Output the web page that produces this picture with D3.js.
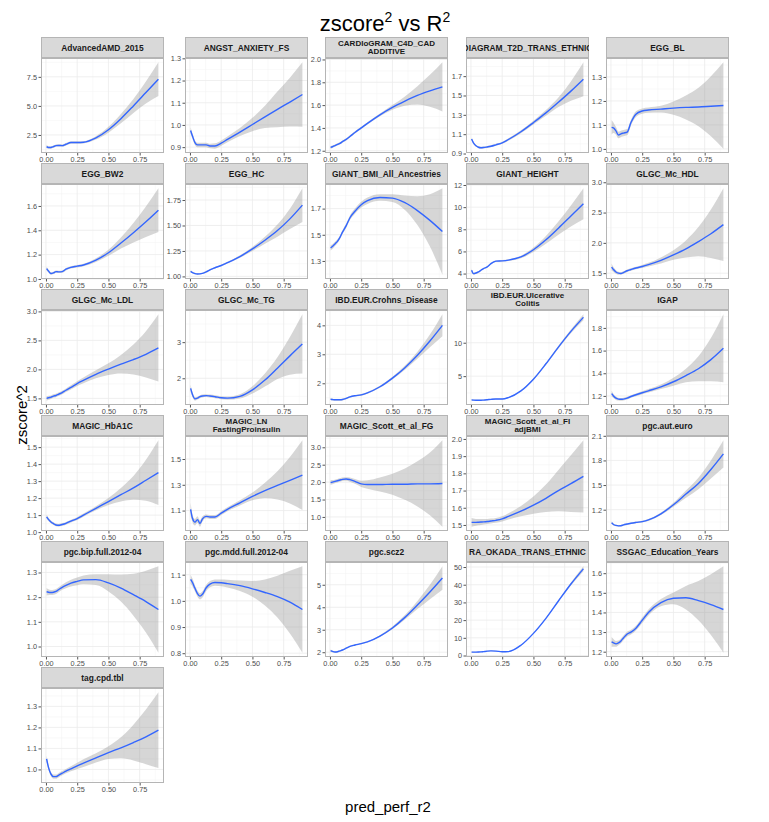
<!DOCTYPE html>
<html>
<head>
<meta charset="utf-8">
<script src="https://cdn.jsdelivr.net/npm/d3@7"></script>
<style>
  body { margin: 0; background: #fff; }
  svg { display: block; font-family: "Liberation Sans", Arial, sans-serif; }
</style>
</head>
<body>
<svg id="chart" width="769" height="822"></svg>
<script>
// Facet names, in facet_wrap order (\n = wrapped strip label)
const panelNames = [
  "AdvancedAMD_2015", "ANGST_ANXIETY_FS", "CARDIoGRAM_C4D_CAD\nADDITIVE", "DIAGRAM_T2D_TRANS_ETHNIC", "EGG_BL",
  "EGG_BW2", "EGG_HC", "GIANT_BMI_All_Ancestries", "GIANT_HEIGHT", "GLGC_Mc_HDL",
  "GLGC_Mc_LDL", "GLGC_Mc_TG", "IBD.EUR.Crohns_Disease", "IBD.EUR.Ulcerative\nColitis", "IGAP",
  "MAGIC_HbA1C", "MAGIC_LN\nFastingProinsulin", "MAGIC_Scott_et_al_FG", "MAGIC_Scott_et_al_FI\nadjBMI", "pgc.aut.euro",
  "pgc.bip.full.2012-04", "pgc.mdd.full.2012-04", "pgc.scz2", "RA_OKADA_TRANS_ETHNIC", "SSGAC_Education_Years",
  "tag.cpd.tbl"
];

const xGrid = [0.005, 0.02, 0.04, 0.06, 0.08, 0.1, 0.13, 0.16, 0.2, 0.25, 0.3, 0.4, 0.5, 0.6, 0.7, 0.8, 0.9];
const xTickLabels = ["0.00", "0.25", "0.50", "0.75"];

const yTickLabels = [
  ["2.5", "5.0", "7.5"], ["0.9", "1.0", "1.1", "1.2", "1.3"], ["1.2", "1.4", "1.6", "1.8", "2.0"], ["0.9", "1.1", "1.3", "1.5", "1.7"], ["1.0", "1.1", "1.2", "1.3"],
  ["1.0", "1.2", "1.4", "1.6"], ["1.00", "1.25", "1.50", "1.75"], ["1.3", "1.5", "1.7"], ["4", "6", "8", "10", "12"], ["1.5", "2.0", "2.5", "3.0"],
  ["1.5", "2.0", "2.5", "3.0"], ["2", "3"], ["2", "3", "4"], ["5", "10"], ["1.2", "1.4", "1.6", "1.8"],
  ["1.0", "1.1", "1.2", "1.3", "1.4", "1.5"], ["1.1", "1.3", "1.5"], ["1.0", "1.5", "2.0", "2.5", "3.0"], ["1.5", "1.6", "1.7", "1.8", "1.9", "2.0"], ["1.2", "1.5", "1.8", "2.1"],
  ["1.0", "1.1", "1.2", "1.3"], ["0.8", "0.9", "1.0", "1.1"], ["2", "3", "4", "5"], ["0", "10", "20", "30", "40", "50"], ["1.2", "1.3", "1.4", "1.5", "1.6"],
  ["1.0", "1.1", "1.2", "1.3"]
];

// loess fit of zscore^2 at each xGrid point
const fitValues = [
  [1.5, 1.42, 1.42, 1.5, 1.58, 1.6, 1.58, 1.7, 1.85, 1.85, 1.87, 2.25, 2.95, 3.9, 5.0, 6.15, 7.3],
  [0.975, 0.95, 0.92, 0.91, 0.91, 0.91, 0.91, 0.905, 0.905, 0.918, 0.935, 0.968, 1.002, 1.036, 1.07, 1.103, 1.137],
  [1.23, 1.235, 1.245, 1.255, 1.265, 1.28, 1.3, 1.325, 1.36, 1.4, 1.44, 1.515, 1.58, 1.635, 1.685, 1.725, 1.76],
  [1.05, 1.01, 0.98, 0.965, 0.96, 0.962, 0.968, 0.975, 0.99, 1.01, 1.045, 1.125, 1.22, 1.32, 1.43, 1.545, 1.668],
  [1.09, 1.088, 1.075, 1.058, 1.063, 1.066, 1.07, 1.11, 1.145, 1.158, 1.162, 1.166, 1.17, 1.173, 1.175, 1.178, 1.181],
  [1.085, 1.065, 1.045, 1.05, 1.06, 1.058, 1.06, 1.08, 1.095, 1.105, 1.115, 1.155, 1.215, 1.295, 1.38, 1.47, 1.565],
  [1.05, 1.038, 1.028, 1.024, 1.025, 1.03, 1.045, 1.065, 1.085, 1.107, 1.135, 1.195, 1.27, 1.355, 1.45, 1.565, 1.7],
  [1.4, 1.41, 1.43, 1.45, 1.48, 1.52, 1.57, 1.63, 1.68, 1.73, 1.76, 1.785, 1.78, 1.745, 1.685, 1.61, 1.525],
  [4.3, 4.0, 4.05, 4.15, 4.3, 4.45, 4.6, 4.9, 5.12, 5.15, 5.22, 5.5, 6.15, 7.05, 8.1, 9.2, 10.3],
  [1.6, 1.56, 1.52, 1.5, 1.495, 1.51, 1.54, 1.56, 1.585, 1.61, 1.64, 1.71, 1.8, 1.9, 2.02, 2.15, 2.3],
  [1.5, 1.51, 1.52, 1.54, 1.55, 1.57, 1.6, 1.64, 1.69, 1.755, 1.81, 1.915, 2.005, 2.09, 2.17, 2.26, 2.37],
  [1.72, 1.55, 1.43, 1.45, 1.49, 1.51, 1.52, 1.51, 1.49, 1.46, 1.45, 1.5, 1.68, 1.95, 2.28, 2.62, 2.95],
  [1.45, 1.44, 1.43, 1.43, 1.43, 1.44, 1.48, 1.53, 1.57, 1.6, 1.67, 1.88, 2.18, 2.54, 2.97, 3.46, 4.0],
  [1.45, 1.42, 1.4, 1.4, 1.4, 1.42, 1.47, 1.53, 1.58, 1.58, 1.8, 2.8, 4.55, 6.85, 9.35, 11.7, 13.8],
  [1.22, 1.2, 1.18, 1.172, 1.17, 1.172, 1.18, 1.195, 1.21, 1.228, 1.245, 1.28, 1.325, 1.38, 1.44, 1.52, 1.62],
  [1.09, 1.075, 1.06, 1.05, 1.042, 1.04, 1.045, 1.052, 1.065, 1.08, 1.1, 1.14, 1.18, 1.22, 1.26, 1.305, 1.35],
  [1.11, 1.04, 1.01, 1.03, 1.0, 1.035, 1.055, 1.05, 1.05, 1.08, 1.11, 1.16, 1.21, 1.255, 1.295, 1.335, 1.375],
  [1.99, 2.0, 2.02, 2.04, 2.06, 2.08, 2.09, 2.07, 2.02, 1.95, 1.93, 1.93, 1.94, 1.94, 1.95, 1.95, 1.96],
  [1.515, 1.515, 1.515, 1.516, 1.517, 1.518, 1.52, 1.523, 1.527, 1.535, 1.55, 1.58, 1.615, 1.655, 1.7, 1.74, 1.782],
  [1.04, 1.02, 1.008, 1.003, 1.005, 1.015, 1.025, 1.035, 1.045, 1.055, 1.075, 1.15, 1.26, 1.39, 1.52, 1.69, 1.88],
  [1.222, 1.22, 1.219, 1.22, 1.223, 1.23, 1.24, 1.248, 1.257, 1.264, 1.27, 1.271, 1.258, 1.237, 1.21, 1.182, 1.15],
  [1.082, 1.07, 1.048, 1.028, 1.018, 1.025, 1.05, 1.064, 1.07, 1.069, 1.066, 1.058, 1.046, 1.032, 1.016, 0.995, 0.967],
  [2.07, 2.04, 2.01, 2.02, 2.06, 2.1, 2.18, 2.26, 2.32, 2.38, 2.46, 2.72, 3.08, 3.55, 4.1, 4.68, 5.3],
  [1.9, 1.9, 1.9, 1.95, 2.05, 2.2, 2.45, 2.6, 2.5, 2.1, 2.2, 5.8, 12.5, 21, 30.8, 40.4, 49],
  [1.25, 1.245, 1.24, 1.245, 1.255, 1.27, 1.29, 1.3, 1.32, 1.36, 1.4, 1.45, 1.472, 1.475, 1.46, 1.44, 1.415],
  [1.05, 1.01, 0.978, 0.966, 0.966, 0.972, 0.982, 0.992, 1.003, 1.017, 1.03, 1.055, 1.08, 1.103, 1.128, 1.155, 1.187]
];

// half width of the confidence ribbon at each xGrid point
const bandValues = [
  [0.15, 0.1, 0.1, 0.1, 0.1, 0.1, 0.1, 0.1, 0.1, 0.1, 0.1, 0.15, 0.25, 0.4, 0.6, 0.95, 1.45],
  [0.015, 0.012, 0.01, 0.01, 0.01, 0.01, 0.01, 0.01, 0.012, 0.012, 0.013, 0.018, 0.03, 0.05, 0.08, 0.11, 0.145],
  [0.012, 0.01, 0.01, 0.01, 0.01, 0.01, 0.01, 0.01, 0.01, 0.01, 0.01, 0.012, 0.02, 0.04, 0.08, 0.14, 0.215],
  [0.015, 0.012, 0.01, 0.01, 0.01, 0.01, 0.01, 0.01, 0.01, 0.01, 0.012, 0.015, 0.02, 0.03, 0.05, 0.1, 0.175],
  [0.03, 0.022, 0.016, 0.014, 0.013, 0.013, 0.013, 0.012, 0.012, 0.011, 0.011, 0.014, 0.028, 0.05, 0.08, 0.125, 0.18],
  [0.015, 0.012, 0.01, 0.01, 0.01, 0.01, 0.01, 0.01, 0.01, 0.01, 0.01, 0.015, 0.025, 0.045, 0.08, 0.125, 0.18],
  [0.01, 0.008, 0.007, 0.007, 0.007, 0.007, 0.007, 0.007, 0.007, 0.008, 0.009, 0.012, 0.02, 0.035, 0.06, 0.1, 0.165],
  [0.02, 0.018, 0.016, 0.015, 0.015, 0.015, 0.016, 0.018, 0.02, 0.022, 0.024, 0.025, 0.03, 0.055, 0.11, 0.2, 0.33],
  [0.15, 0.1, 0.08, 0.07, 0.07, 0.07, 0.07, 0.07, 0.07, 0.07, 0.08, 0.12, 0.2, 0.35, 0.6, 0.95, 1.4],
  [0.06, 0.04, 0.03, 0.025, 0.02, 0.02, 0.02, 0.02, 0.02, 0.025, 0.03, 0.05, 0.08, 0.14, 0.24, 0.4, 0.6],
  [0.04, 0.035, 0.03, 0.03, 0.03, 0.03, 0.03, 0.03, 0.035, 0.04, 0.05, 0.07, 0.1, 0.16, 0.26, 0.4, 0.58],
  [0.1, 0.07, 0.05, 0.04, 0.04, 0.04, 0.04, 0.04, 0.04, 0.04, 0.045, 0.06, 0.1, 0.18, 0.3, 0.52, 0.82],
  [0.03, 0.03, 0.03, 0.03, 0.03, 0.03, 0.03, 0.03, 0.03, 0.03, 0.03, 0.035, 0.045, 0.07, 0.12, 0.22, 0.38],
  [0.1, 0.08, 0.07, 0.07, 0.07, 0.07, 0.07, 0.07, 0.07, 0.07, 0.08, 0.1, 0.12, 0.15, 0.2, 0.28, 0.45],
  [0.025, 0.018, 0.015, 0.012, 0.012, 0.012, 0.012, 0.012, 0.012, 0.013, 0.015, 0.02, 0.035, 0.06, 0.11, 0.19, 0.3],
  [0.012, 0.01, 0.008, 0.008, 0.008, 0.008, 0.008, 0.008, 0.008, 0.008, 0.009, 0.012, 0.02, 0.04, 0.07, 0.12, 0.19],
  [0.05, 0.03, 0.025, 0.025, 0.025, 0.02, 0.015, 0.015, 0.015, 0.015, 0.015, 0.02, 0.03, 0.06, 0.11, 0.18, 0.27],
  [0.07, 0.06, 0.05, 0.05, 0.05, 0.05, 0.05, 0.06, 0.07, 0.09, 0.12, 0.2, 0.3, 0.45, 0.65, 0.9, 1.24],
  [0.025, 0.022, 0.02, 0.018, 0.017, 0.016, 0.015, 0.014, 0.014, 0.015, 0.018, 0.03, 0.05, 0.08, 0.12, 0.165, 0.21],
  [0.015, 0.012, 0.01, 0.01, 0.01, 0.01, 0.01, 0.01, 0.01, 0.01, 0.012, 0.015, 0.025, 0.045, 0.07, 0.11, 0.165],
  [0.015, 0.012, 0.01, 0.01, 0.01, 0.01, 0.01, 0.012, 0.014, 0.016, 0.018, 0.022, 0.035, 0.055, 0.085, 0.125, 0.175],
  [0.018, 0.015, 0.012, 0.012, 0.012, 0.012, 0.012, 0.012, 0.012, 0.013, 0.015, 0.02, 0.03, 0.05, 0.08, 0.12, 0.165],
  [0.05, 0.04, 0.03, 0.03, 0.03, 0.03, 0.03, 0.03, 0.03, 0.03, 0.03, 0.04, 0.06, 0.1, 0.18, 0.32, 0.52],
  [0.3, 0.25, 0.2, 0.2, 0.2, 0.2, 0.2, 0.2, 0.2, 0.2, 0.2, 0.2, 0.25, 0.3, 0.5, 0.9, 1.4],
  [0.025, 0.02, 0.015, 0.012, 0.012, 0.012, 0.012, 0.012, 0.012, 0.014, 0.015, 0.018, 0.03, 0.06, 0.1, 0.155, 0.22],
  [0.015, 0.012, 0.01, 0.01, 0.01, 0.01, 0.01, 0.01, 0.012, 0.015, 0.018, 0.022, 0.03, 0.05, 0.085, 0.13, 0.18]
];

// Layout of the facet grid
const colLeft = [41, 185, 325, 466, 606];
const panelW = 123;
const stripH = 21;
const panelH = 95;
const gridTop = 37;
const rowPitch = 126;

const svg = d3.select("#chart");

/**
 * ggplot style 5% expansion of a [min, max] range
 */
function expand(ext) {
  const pad = (ext[1] - ext[0]) * 0.05;
  return [ext[0] - pad, ext[1] + pad];
}

/**
 * Minor breaks: midpoints between majors, plus one step beyond each end
 */
function minorBreaks(majors, domain) {
  const step = majors.length > 1 ? majors[1] - majors[0] : 1;
  const out = [];
  for (let i = -1; i < majors.length; i++) {
    const m = (i < 0 ? majors[0] - step : majors[i]) + step / 2;
    if (m > domain[0] && m < domain[1]) out.push(m);
  }
  return out;
}

const xTicks = xTickLabels.map(Number);
const xDomain = expand(d3.extent(xGrid));

panelNames.forEach(function (name, i) {
  const col = i % 5;
  const row = Math.floor(i / 5);
  const left = colLeft[col];
  const stripTop = gridTop + row * rowPitch;
  const top = stripTop + stripH;

  const fit = fitValues[i];
  const band = bandValues[i];
  const pts = xGrid.map(function (x, j) {
    return { x: x, y: fit[j], lo: fit[j] - band[j], hi: fit[j] + band[j] };
  });

  const yLabels = yTickLabels[i];
  const yTicks = yLabels.map(Number);
  const yDomain = expand([d3.min(pts, (d) => d.lo), d3.max(pts, (d) => d.hi)]);

  const xScale = d3.scaleLinear().domain(xDomain).range([0, panelW]);
  const yScale = d3.scaleLinear().domain(yDomain).range([panelH, 0]);

  const g = svg.append("g").attr("transform", "translate(" + left + "," + top + ")");

  // Panel background
  g.append("rect")
    .attr("width", panelW)
    .attr("height", panelH)
    .attr("fill", "#fff");

  // Minor grid
  const minorG = g.append("g").attr("stroke", "#f2f2f2").attr("stroke-width", 0.5);
  minorBreaks(xTicks, xDomain).forEach(function (v) {
    minorG.append("line").attr("x1", xScale(v)).attr("x2", xScale(v)).attr("y1", 0).attr("y2", panelH);
  });
  minorBreaks(yTicks, yDomain).forEach(function (v) {
    minorG.append("line").attr("y1", yScale(v)).attr("y2", yScale(v)).attr("x1", 0).attr("x2", panelW);
  });

  // Major grid
  const majorG = g.append("g").attr("stroke", "#ebebeb").attr("stroke-width", 0.8);
  xTicks.forEach(function (v) {
    majorG.append("line").attr("x1", xScale(v)).attr("x2", xScale(v)).attr("y1", 0).attr("y2", panelH);
  });
  yTicks.forEach(function (v) {
    if (v >= yDomain[0] && v <= yDomain[1]) {
      majorG.append("line").attr("y1", yScale(v)).attr("y2", yScale(v)).attr("x1", 0).attr("x2", panelW);
    }
  });

  // Ribbon
  const area = d3.area()
    .x((d) => xScale(d.x))
    .y0((d) => yScale(d.lo))
    .y1((d) => yScale(d.hi))
    .curve(d3.curveMonotoneX);
  g.append("path")
    .datum(pts)
    .attr("d", area)
    .attr("fill", "#999")
    .attr("fill-opacity", 0.4);

  // Smooth line
  const line = d3.line()
    .x((d) => xScale(d.x))
    .y((d) => yScale(d.y))
    .curve(d3.curveMonotoneX);
  g.append("path")
    .datum(pts)
    .attr("d", line)
    .attr("fill", "none")
    .attr("stroke", "#3366FF")
    .attr("stroke-width", 1.4);

  // Panel border
  g.append("rect")
    .attr("x", 0.5)
    .attr("y", 0.5)
    .attr("width", panelW - 1)
    .attr("height", panelH - 1)
    .attr("fill", "none")
    .attr("stroke", "#b5b5b5");

  // Y axis
  const yAxis = g.append("g")
    .call(d3.axisLeft(yScale)
      .tickValues(yTicks)
      .tickFormat((d, k) => yLabels[k])
      .tickSize(2.5)
      .tickPadding(1.5));
  yAxis.select(".domain").remove();
  yAxis.selectAll("line").attr("stroke", "#555");
  yAxis.selectAll("text")
    .attr("fill", "#4d4d4d")
    .style("font-size", "7.3px")
    .style("font-family", "Liberation Sans, Arial, sans-serif");

  // X axis
  const xAxis = g.append("g")
    .attr("transform", "translate(0," + panelH + ")")
    .call(d3.axisBottom(xScale)
      .tickValues(xTicks)
      .tickFormat((d, k) => xTickLabels[k])
      .tickSize(2.5)
      .tickPadding(1.5));
  xAxis.select(".domain").remove();
  xAxis.selectAll("line").attr("stroke", "#555");
  xAxis.selectAll("text")
    .attr("fill", "#4d4d4d")
    .style("font-size", "7.3px")
    .style("font-family", "Liberation Sans, Arial, sans-serif");

  // Strip
  const clipId = "strip-clip-" + i;
  svg.append("clipPath")
    .attr("id", clipId)
    .append("rect")
    .attr("x", left)
    .attr("y", stripTop)
    .attr("width", panelW)
    .attr("height", stripH);

  svg.append("rect")
    .attr("x", left + 0.5)
    .attr("y", stripTop + 0.5)
    .attr("width", panelW - 1)
    .attr("height", stripH - 1)
    .attr("fill", "#d9d9d9")
    .attr("stroke", "#b5b5b5");

  const lines = name.split("\n");
  const stripText = svg.append("text")
    .attr("clip-path", "url(#" + clipId + ")")
    .attr("text-anchor", "middle")
    .attr("font-weight", "bold")
    .attr("font-size", lines.length === 1 ? "8.4px" : "8px")
    .attr("fill", "#1a1a1a");
  if (lines.length === 1) {
    stripText.append("tspan")
      .attr("x", left + panelW / 2)
      .attr("y", stripTop + stripH / 2 + 3)
      .text(lines[0]);
  } else {
    lines.forEach(function (t, k) {
      stripText.append("tspan")
        .attr("x", left + panelW / 2)
        .attr("y", stripTop + 8.6 + k * 8.6)
        .text(t);
    });
  }
});

// Title: zscore^2 vs R^2
const title = svg.append("text")
  .attr("x", 385)
  .attr("y", 31)
  .attr("text-anchor", "middle")
  .attr("font-size", "22px")
  .attr("fill", "#000");
title.append("tspan").text("zscore");
title.append("tspan").attr("dy", -9).attr("font-size", "14px").text("2");
title.append("tspan").attr("dy", 9).text(" vs R");
title.append("tspan").attr("dy", -9).attr("font-size", "14px").text("2");

// Axis titles
svg.append("text")
  .attr("transform", "translate(27,415)rotate(-90)")
  .attr("text-anchor", "middle")
  .attr("font-size", "15px")
  .attr("fill", "#000")
  .text("zscore^2");

svg.append("text")
  .attr("x", 388)
  .attr("y", 812)
  .attr("text-anchor", "middle")
  .attr("font-size", "15px")
  .attr("fill", "#000")
  .text("pred_perf_r2");
</script>
</body>
</html>
